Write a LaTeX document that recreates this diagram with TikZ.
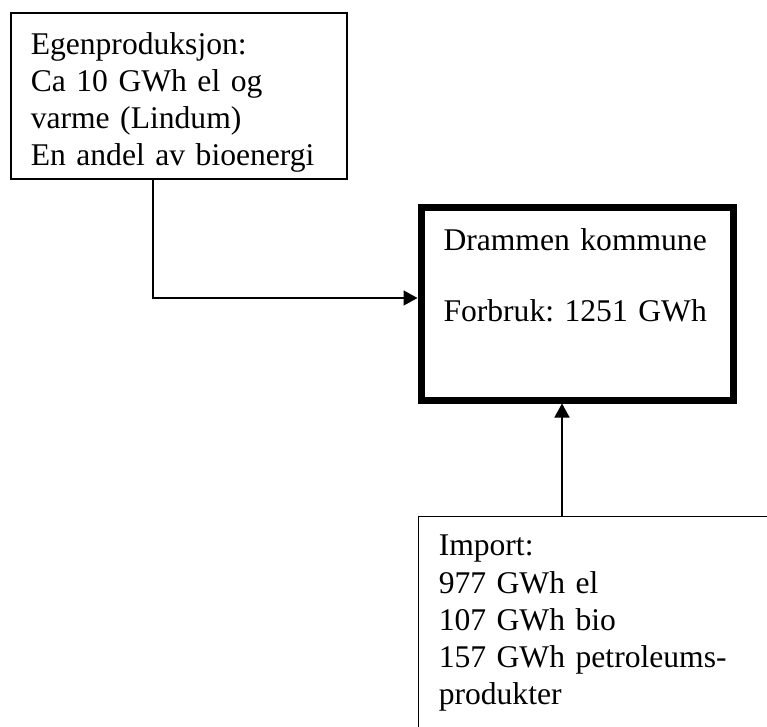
\documentclass[tikz,border=0pt]{standalone}
\usepackage{fontspec}
\setmainfont{Liberation Serif}
\frenchspacing
\usetikzlibrary{arrows.meta,calc}
\begin{document}
\begin{tikzpicture}[x=1pt,y=-1pt,
    box/.style={draw,line width=1.5pt,anchor=north west,inner sep=0pt,align=left,
        font=\fontsize{31.6}{37.3}\selectfont},
    arr/.style={line width=1.5pt,-{Triangle[length=14pt,width=15pt]}}]
            \useasboundingbox (0,0) rectangle (767,726);
            \clip (0,0) rectangle (767,726);

            \node[box, inner xsep=20pt, text width=296pt, text height=41.3pt, text depth=124.7pt] at (10,12) (egen)
                {Egenproduksjon:\\Ca 10 GWh el og\\varme (Lindum)\\En andel av bioenergi};

            \node[box, line width=7pt, inner xsep=22.5pt, text width=267pt, text height=43.5pt, text depth=149.5pt] at (417.5,203.5) (dram)
                {Drammen kommune\\[33.7pt]Forbruk: 1251 GWh};

            \node[box, inner xsep=20.5pt, text width=341pt, text height=39.5pt, text depth=220pt] at (417.5,515.5) (imp)
                {Import:\\977 GWh el\\107 GWh bio\\157 GWh petroleums-\\produkter};

            \coordinate (turn) at (153,298);
            \coordinate (up) at (562,0);

            \draw[arr](egen.south -| turn) |- (dram.west |- turn);
            \draw[arr](imp.north -| up) -- (dram.south -| up);
        \end{tikzpicture}
\end{document}
